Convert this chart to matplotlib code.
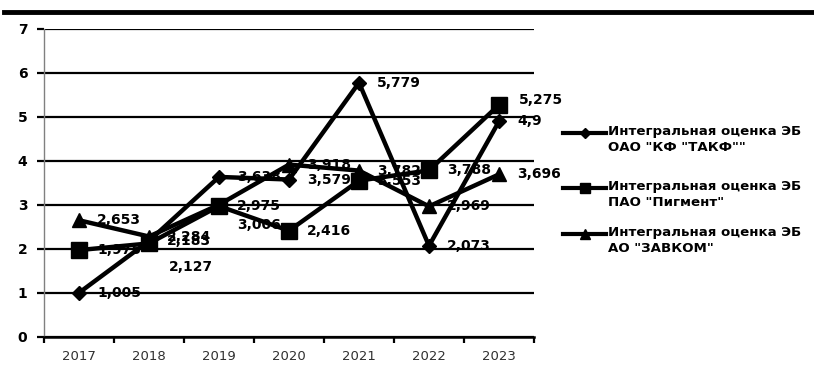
import matplotlib
matplotlib.use('Agg')
import matplotlib.pyplot as plt
from matplotlib.lines import Line2D

# Данные графика
years = ['2017', '2018', '2019', '2020', '2021', '2022', '2023']
takf = [1.005, 2.183, 3.638, 3.579, 5.779, 2.073, 4.9]
pigment = [1.975, 2.127, 2.975, 2.416, 3.553, 3.788, 5.275]
zavkom = [2.653, 2.284, 3.006, 3.918, 3.782, 2.969, 3.696]
legend_labels = [
    'Интегральная оценка ЭБ\nОАО "КФ "ТАКФ""',
    'Интегральная оценка ЭБ\nПАО "Пигмент"',
    'Интегральная оценка ЭБ\nАО "ЗАВКОМ"',
]
y_ticks = [0, 1, 2, 3, 4, 5, 6, 7]

W, H, DPI = 814, 376, 100
fig = plt.figure(figsize=(W / DPI, H / DPI), dpi=DPI)
ax = fig.add_axes([44 / W, 1 - 337 / H, 490 / W, (337 - 29) / H])

x = list(range(len(years)))
series = [
    (takf, 'D', 7.5),
    (pigment, 's', 11),
    (zavkom, '^', 10),
]

# сдвиги подписей (в пикселях): по умолчанию справа от точки
offsets = {
    (1, 1): (20, -24),
    (2, 2): (18, -20),
    (1, 6): (20, 5),
}

BOLD = 'DejaVu Sans'
for si, (vals, mk, ms) in enumerate(series):
    ax.plot(x, vals, color='black', lw=3.2, marker=mk, markersize=ms,
            zorder=4, clip_on=False)
    for i, v in enumerate(vals):
        dx, dy = offsets.get((si, i), (18, 0))
        txt = f'{v:g}'.replace('.', ',')
        ax.annotate(txt, (i, v), xytext=(dx * 72 / DPI, dy * 72 / DPI),
                    textcoords='offset points', ha='left', va='center',
                    fontsize=10, fontweight='bold', family=BOLD,
                    color='black', zorder=3, annotation_clip=False)

ax.set_xlim(-0.5, len(years) - 0.5)
ax.set_ylim(0, 7)
ax.set_yticks(y_ticks)
ax.set_yticklabels([str(t) for t in y_ticks], fontsize=10, fontweight='bold',
                   family=BOLD)
ax.yaxis.grid(True, color='black', lw=1.6)
ax.set_axisbelow(True)
ax.tick_params(axis='y', length=5, width=1.6, color='black', pad=7)

ax.set_xticks(x)
ax.set_xticklabels(years, fontsize=9.5, color='#303030')
ax.tick_params(axis='x', length=0, pad=9)
ax.set_xticks([i - 0.5 for i in range(len(years) + 1)], minor=True)
ax.tick_params(axis='x', which='minor', length=4, width=1.6, color='black')

for side in ['top', 'right']:
    ax.spines[side].set_visible(False)
ax.spines['left'].set_color('#808080')
ax.spines['left'].set_linewidth(1)
ax.spines['bottom'].set_color('black')
ax.spines['bottom'].set_linewidth(1.8)

# толстая линия сверху
fig.add_artist(Line2D([4 / W, 1], [1 - 12 / H, 1 - 12 / H], color='black',
                      lw=3.5, transform=fig.transFigure))

# легенда справа
legend_y = [133, 188, 234]
for (vals, mk, ms), lab, ly in zip(series, legend_labels, legend_y):
    yy = 1 - ly / H
    fig.add_artist(Line2D([563 / W, 606 / W], [yy, yy], color='black', lw=3,
                          transform=fig.transFigure))
    fig.add_artist(Line2D([584.5 / W], [yy], color='black', marker=mk,
                          markersize=ms * 0.7, lw=0,
                          transform=fig.transFigure))
    fig.text(608 / W, yy + 8 / H, lab, ha='left', va='top', fontsize=9.6,
             fontweight='bold', family=BOLD, linespacing=1.3,
             transform=fig.transFigure)

fig.savefig('out.png', dpi=DPI)
